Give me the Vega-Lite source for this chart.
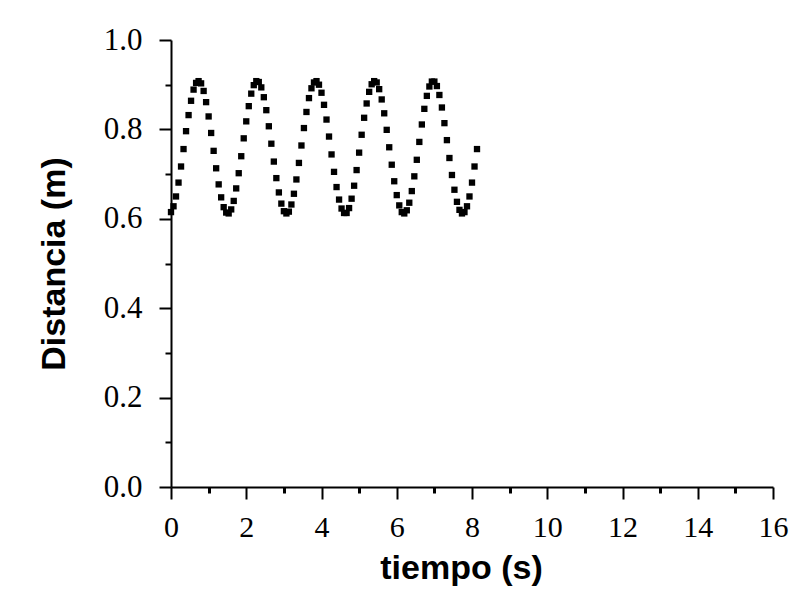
{
  "$schema": "https://vega.github.io/schema/vega-lite/v6.json",
  "autosize": "none",
  "width": 602,
  "height": 447,
  "padding": {"left": 171, "top": 40, "right": 33, "bottom": 116},
  "background": "white",
  "config": {"view": {"stroke": null}},
  "data": {"values": [
    {"t": 0, "d": 0.615}, {"t": 0.067, "d": 0.628}, {"t": 0.133, "d": 0.650}, {"t": 0.2, "d": 0.681}, {"t": 0.267, "d": 0.717},
    {"t": 0.333, "d": 0.756}, {"t": 0.4, "d": 0.796}, {"t": 0.467, "d": 0.832}, {"t": 0.533, "d": 0.864}, {"t": 0.6, "d": 0.889},
    {"t": 0.667, "d": 0.904}, {"t": 0.733, "d": 0.908}, {"t": 0.8, "d": 0.903}, {"t": 0.867, "d": 0.886}, {"t": 0.933, "d": 0.861},
    {"t": 1.0, "d": 0.829}, {"t": 1.067, "d": 0.792}, {"t": 1.133, "d": 0.752}, {"t": 1.2, "d": 0.713}, {"t": 1.267, "d": 0.677},
    {"t": 1.333, "d": 0.648}, {"t": 1.4, "d": 0.626}, {"t": 1.467, "d": 0.614}, {"t": 1.533, "d": 0.612}, {"t": 1.6, "d": 0.621},
    {"t": 1.667, "d": 0.640}, {"t": 1.733, "d": 0.668}, {"t": 1.8, "d": 0.702}, {"t": 1.867, "d": 0.740}, {"t": 1.933, "d": 0.780},
    {"t": 2.0, "d": 0.818}, {"t": 2.067, "d": 0.852}, {"t": 2.133, "d": 0.880}, {"t": 2.2, "d": 0.899}, {"t": 2.267, "d": 0.908},
    {"t": 2.333, "d": 0.906}, {"t": 2.4, "d": 0.894}, {"t": 2.467, "d": 0.872}, {"t": 2.533, "d": 0.843}, {"t": 2.6, "d": 0.807},
    {"t": 2.667, "d": 0.768}, {"t": 2.733, "d": 0.728}, {"t": 2.8, "d": 0.691}, {"t": 2.867, "d": 0.659}, {"t": 2.933, "d": 0.634},
    {"t": 3.0, "d": 0.617}, {"t": 3.067, "d": 0.612}, {"t": 3.133, "d": 0.616}, {"t": 3.2, "d": 0.632}, {"t": 3.267, "d": 0.656},
    {"t": 3.333, "d": 0.688}, {"t": 3.4, "d": 0.725}, {"t": 3.467, "d": 0.764}, {"t": 3.533, "d": 0.803}, {"t": 3.6, "d": 0.839},
    {"t": 3.667, "d": 0.870}, {"t": 3.733, "d": 0.892}, {"t": 3.8, "d": 0.905}, {"t": 3.867, "d": 0.908}, {"t": 3.933, "d": 0.900},
    {"t": 4.0, "d": 0.882}, {"t": 4.067, "d": 0.855}, {"t": 4.133, "d": 0.822}, {"t": 4.2, "d": 0.784}, {"t": 4.267, "d": 0.744},
    {"t": 4.333, "d": 0.705}, {"t": 4.4, "d": 0.671}, {"t": 4.467, "d": 0.643}, {"t": 4.533, "d": 0.623}, {"t": 4.6, "d": 0.613},
    {"t": 4.667, "d": 0.613}, {"t": 4.733, "d": 0.624}, {"t": 4.8, "d": 0.645}, {"t": 4.867, "d": 0.674}, {"t": 4.933, "d": 0.709},
    {"t": 5.0, "d": 0.748}, {"t": 5.067, "d": 0.788}, {"t": 5.133, "d": 0.826}, {"t": 5.2, "d": 0.858}, {"t": 5.267, "d": 0.884},
    {"t": 5.333, "d": 0.901}, {"t": 5.4, "d": 0.908}, {"t": 5.467, "d": 0.905}, {"t": 5.533, "d": 0.890}, {"t": 5.6, "d": 0.867},
    {"t": 5.667, "d": 0.836}, {"t": 5.733, "d": 0.799}, {"t": 5.8, "d": 0.760}, {"t": 5.867, "d": 0.721}, {"t": 5.933, "d": 0.684},
    {"t": 6.0, "d": 0.653}, {"t": 6.067, "d": 0.630}, {"t": 6.133, "d": 0.615}, {"t": 6.2, "d": 0.612}, {"t": 6.267, "d": 0.619},
    {"t": 6.333, "d": 0.636}, {"t": 6.4, "d": 0.662}, {"t": 6.467, "d": 0.695}, {"t": 6.533, "d": 0.732}, {"t": 6.6, "d": 0.772},
    {"t": 6.667, "d": 0.811}, {"t": 6.733, "d": 0.846}, {"t": 6.8, "d": 0.875}, {"t": 6.867, "d": 0.896}, {"t": 6.933, "d": 0.907},
    {"t": 7.0, "d": 0.907}, {"t": 7.067, "d": 0.897}, {"t": 7.133, "d": 0.877}, {"t": 7.2, "d": 0.849}, {"t": 7.267, "d": 0.814},
    {"t": 7.333, "d": 0.776}, {"t": 7.4, "d": 0.736}, {"t": 7.467, "d": 0.698}, {"t": 7.533, "d": 0.665}, {"t": 7.6, "d": 0.638},
    {"t": 7.667, "d": 0.620}, {"t": 7.733, "d": 0.612}, {"t": 7.8, "d": 0.615}, {"t": 7.867, "d": 0.628}, {"t": 7.933, "d": 0.650},
    {"t": 8.0, "d": 0.681}, {"t": 8.067, "d": 0.717}, {"t": 8.133, "d": 0.756}
  ]},
  "mark": {"type": "point", "shape": "square", "filled": true, "size": 40, "color": "black", "opacity": 1},
  "encoding": {
    "x": {
      "field": "t", "type": "quantitative",
      "scale": {"domain": [0, 16], "nice": false, "zero": false},
      "axis": {
        "title": "tiempo (s)",
        "values": [0, 1, 2, 3, 4, 5, 6, 7, 8, 9, 10, 11, 12, 13, 14, 15, 16],
        "labelExpr": "datum.value % 2 === 0 ? datum.label : ''",
        "grid": false,
        "domainColor": "black", "domainWidth": 2,
        "tickColor": "black",
        "tickSize": {"condition": {"test": "datum.value % 2 === 1", "value": 6}, "value": 12},
        "tickWidth": {"condition": {"test": "datum.value % 2 === 1", "value": 3}, "value": 2},
        "labelFont": "Liberation Serif", "labelFontSize": 30, "labelColor": "black",
        "labelPadding": 13, "labelFlush": false, "labelOverlap": false,
        "titleFont": "Liberation Sans", "titleFontSize": 34, "titleFontWeight": "bold", "titleColor": "black",
        "titlePadding": 9, "titleX": 290
      }
    },
    "y": {
      "field": "d", "type": "quantitative",
      "scale": {"domain": [0, 1], "nice": false, "zero": false},
      "axis": {
        "title": "Distancia (m)",
        "values": [0, 0.1, 0.2, 0.3, 0.4, 0.5, 0.6, 0.7, 0.8, 0.9, 1.0],
        "format": ".1f",
        "labelExpr": "round(datum.value * 10) % 2 === 0 ? datum.label : ''",
        "grid": false,
        "domainColor": "black", "domainWidth": 2,
        "tickColor": "black",
        "tickSize": {"condition": {"test": "round(datum.value * 10) % 2 === 1", "value": 6}, "value": 12},
        "tickWidth": 2,
        "labelFont": "Liberation Serif", "labelFontSize": 31, "labelColor": "black",
        "labelPadding": 17, "labelFlush": false, "labelOverlap": false,
        "titleFont": "Liberation Sans", "titleFontSize": 34, "titleFontWeight": "bold", "titleColor": "black",
        "titlePadding": 32
      }
    }
  }
}
